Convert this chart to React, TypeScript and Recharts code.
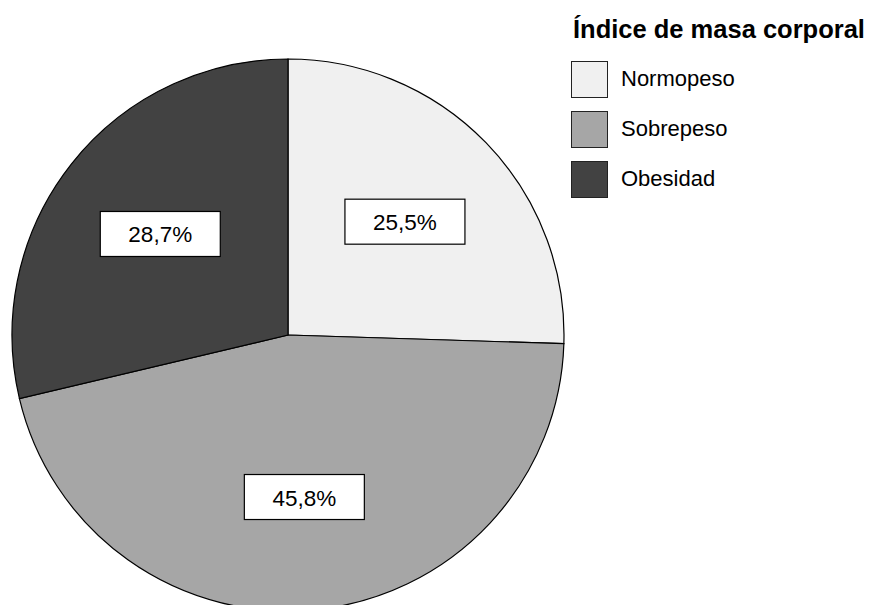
import { PieChart, Pie, Cell, Legend } from "recharts";

const categories = ["Normopeso", "Sobrepeso", "Obesidad"];
const percentages = [25.5, 45.8, 28.7];
const colors = ["#f0f0f0", "#a6a6a6", "#424242"];
const legendTitle = "Índice de masa corporal";

const data = categories.map((name, i) => ({ name, value: percentages[i] }));

const RADIAN = Math.PI / 180;

function renderLabel(props: any) {
  const { cx, cy, midAngle, outerRadius, value } = props;
  const r = outerRadius * 0.59;
  const x = cx + r * Math.cos(-midAngle * RADIAN);
  const y = cy + r * Math.sin(-midAngle * RADIAN);
  const text = value.toFixed(1).replace(".", ",") + "%";
  return (
    <g>
      <rect x={x - 60} y={y - 22.5} width={120} height={45} fill="#fff" stroke="#000" strokeWidth={1.2} />
      <text
        x={x}
        y={y + 1}
        textAnchor="middle"
        dominantBaseline="central"
        fontFamily="Liberation Sans, Arial, sans-serif"
        fontSize={22.5}
        fill="#000"
      >
        {text}
      </text>
    </g>
  );
}

function LegendBox() {
  return (
    <div style={{ fontFamily: "Liberation Sans, Arial, sans-serif", color: "#000" }}>
      <div style={{ fontWeight: "bold", fontSize: 25.5, lineHeight: "30px", marginLeft: 2, whiteSpace: "nowrap" }}>
        {legendTitle}
      </div>
      {categories.map((c, i) => (
        <div key={c} style={{ display: "flex", alignItems: "center", height: 50, marginTop: i === 0 ? 10 : 0 }}>
          <div
            style={{
              width: 37,
              height: 37,
              background: colors[i],
              border: "1px solid #222",
              boxSizing: "border-box",
            }}
          />
          <span style={{ fontSize: 22, marginLeft: 13 }}>{c}</span>
        </div>
      ))}
    </div>
  );
}

export default function App() {
  return (
    <div style={{ position: "absolute", top: 0, left: 0, width: 872, height: 605, background: "#fff", overflow: "hidden" }}>
      <PieChart width={872} height={605} margin={{ top: 0, right: 0, bottom: 0, left: 0 }}>
        <Pie
          data={data}
          dataKey="value"
          nameKey="name"
          cx={288}
          cy={335}
          outerRadius={276}
          startAngle={90}
          endAngle={-270}
          stroke="#000"
          strokeWidth={1.2}
          label={renderLabel}
          labelLine={false}
          isAnimationActive={false}
        >
          {data.map((d, i) => (
            <Cell key={d.name} fill={colors[i]} />
          ))}
        </Pie>
        <Legend
          content={() => <LegendBox />}
          wrapperStyle={{ position: "absolute", top: 14, left: 571, width: 300 }}
        />
      </PieChart>
    </div>
  );
}
